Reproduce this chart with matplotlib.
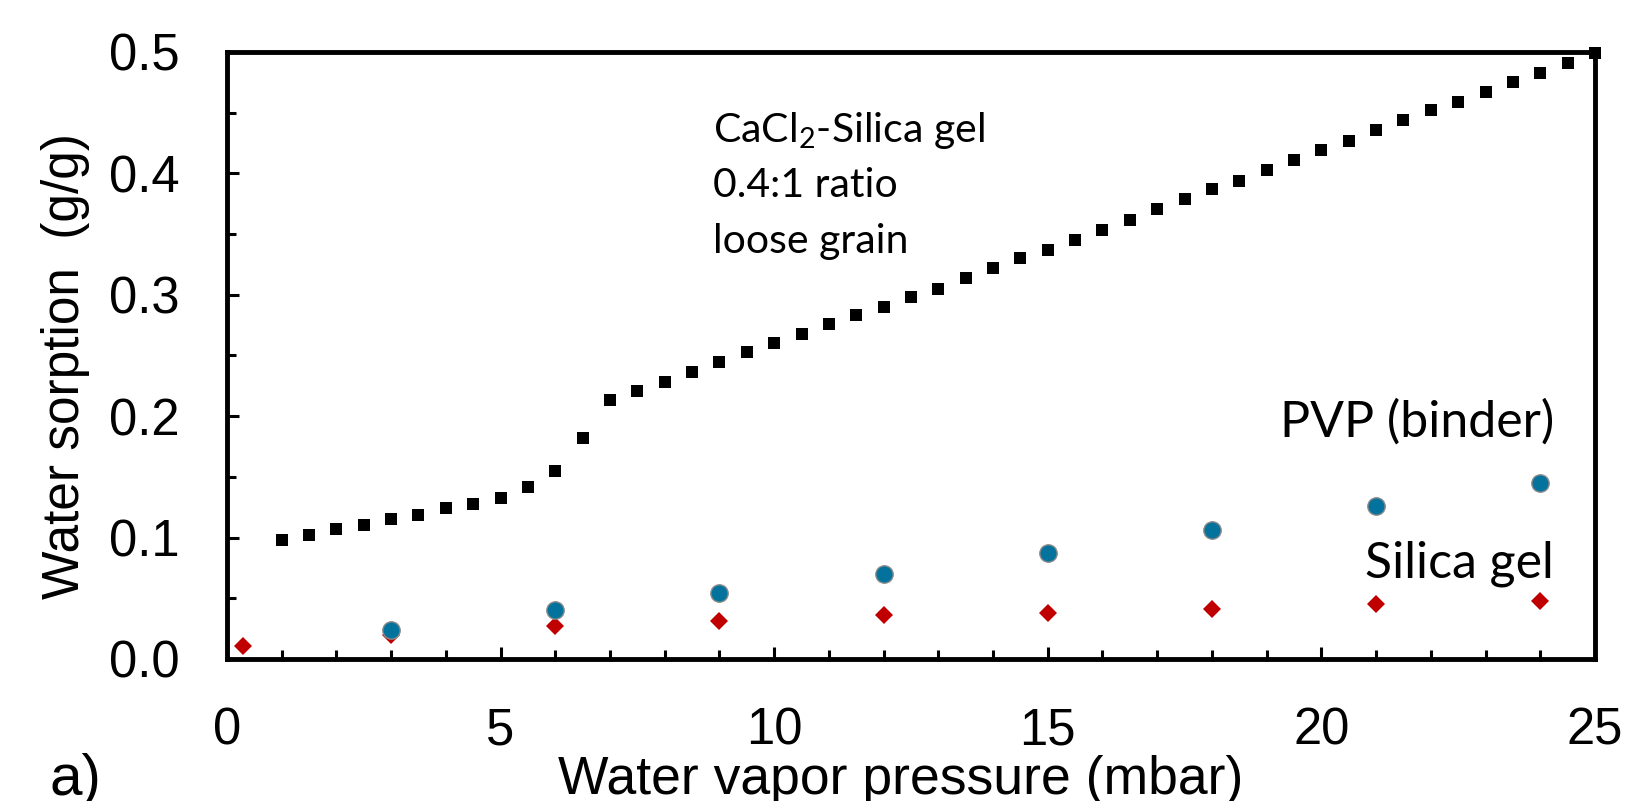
import matplotlib
matplotlib.use("Agg")
import matplotlib.pyplot as plt
from matplotlib.ticker import MultipleLocator, FormatStrFormatter

plt.rcParams['font.family'] = ['Liberation Sans', 'DejaVu Sans']

# CaCl2-Silica gel composite, loose grain
cacl2_p = [1.0, 1.5, 2.0, 2.5, 3.0, 3.5, 4.0, 4.5, 5.0, 5.5, 6.0, 6.5, 7.0, 7.5,
           8.0, 8.5, 9.0, 9.5, 10.0, 10.5, 11.0, 11.5, 12.0, 12.5, 13.0, 13.5,
           14.0, 14.5, 15.0, 15.5, 16.0, 16.5, 17.0, 17.5, 18.0, 18.5, 19.0,
           19.5, 20.0, 20.5, 21.0, 21.5, 22.0, 22.5, 23.0, 23.5, 24.0, 24.5, 25.0]
cacl2_w = [0.098, 0.102, 0.107, 0.110, 0.115, 0.119, 0.124, 0.128, 0.133, 0.142,
           0.155, 0.182, 0.213, 0.221, 0.228, 0.236, 0.245, 0.253, 0.260, 0.268,
           0.276, 0.283, 0.290, 0.298, 0.305, 0.314, 0.322, 0.330, 0.337, 0.345,
           0.353, 0.362, 0.371, 0.379, 0.387, 0.394, 0.403, 0.411, 0.419, 0.427,
           0.436, 0.444, 0.452, 0.459, 0.467, 0.475, 0.483, 0.491, 0.499]

# PVP (binder)
pvp_p = [3, 6, 9, 12, 15, 18, 21, 24]
pvp_w = [0.024, 0.040, 0.054, 0.070, 0.087, 0.106, 0.126, 0.145]

# Silica gel
sg_p = [0.3, 3, 6, 9, 12, 15, 18, 21, 24]
sg_w = [0.011, 0.020, 0.027, 0.031, 0.036, 0.038, 0.041, 0.045, 0.048]

fig = plt.figure(figsize=(16.27, 8.01), dpi=100)
ax = fig.add_axes([0.1395, 0.1773, 0.8408, 0.7578])

ax.plot(sg_p, sg_w, linestyle='none', marker='D', markersize=8.7,
        color='#C00000', markeredgewidth=0, clip_on=False, zorder=3)
ax.plot(pvp_p, pvp_w, linestyle='none', marker='o', markersize=12.5,
        markerfacecolor='#03729C', markeredgecolor='#8A8A8A',
        markeredgewidth=1.0, clip_on=False, zorder=4)
ax.plot(cacl2_p, cacl2_w, linestyle='none', marker='s', markersize=9.3,
        color='black', markeredgewidth=0, clip_on=False, zorder=5)

ax.set_xlim(0, 25)
ax.set_ylim(0, 0.5)
ax.xaxis.set_major_locator(MultipleLocator(5))
ax.xaxis.set_minor_locator(MultipleLocator(1))
ax.yaxis.set_major_locator(MultipleLocator(0.1))
ax.yaxis.set_minor_locator(MultipleLocator(0.05))
ax.yaxis.set_major_formatter(FormatStrFormatter('%.1f'))

for s in ax.spines.values():
    s.set_linewidth(3.5)
ax.tick_params(which='both', direction='in', width=2.2, top=False, right=False)
ax.tick_params(which='major', length=8.5, labelsize=36.5, pad=34)
ax.tick_params(which='minor', length=6.5)

ax.set_xlabel('Water vapor pressure (mbar)', fontsize=38.5)
ax.xaxis.set_label_coords(0.4925, -0.158)
ax.set_ylabel('Water sorption  (g/g)', fontsize=37)
ax.yaxis.set_label_coords(-0.100, 0.482)

# annotations (Calibri-like)
ann = ['Lato', 'DejaVu Sans']
ax.text(8.875, 0.426, r'CaCl$_\mathregular{2}$-Silica gel', fontsize=29.5, family=ann,
        ha='left', va='baseline')
ax.text(8.875, 0.3806, '0.4:1 ratio', fontsize=29.5, family=ann, ha='left', va='baseline')
ax.text(8.875, 0.3344, 'loose grain', fontsize=29.5, family=ann, ha='left', va='baseline')
ax.text(24.25, 0.183, 'PVP (binder)', fontsize=36, family=ann, ha='right', va='baseline')
ax.text(24.25, 0.0675, 'Silica gel', fontsize=36, family=ann, ha='right', va='baseline')

fig.text(50 / 1627, 1 - 795 / 801, 'a)', fontsize=42, ha='left', va='baseline')

fig.savefig('out.png', dpi=100)
